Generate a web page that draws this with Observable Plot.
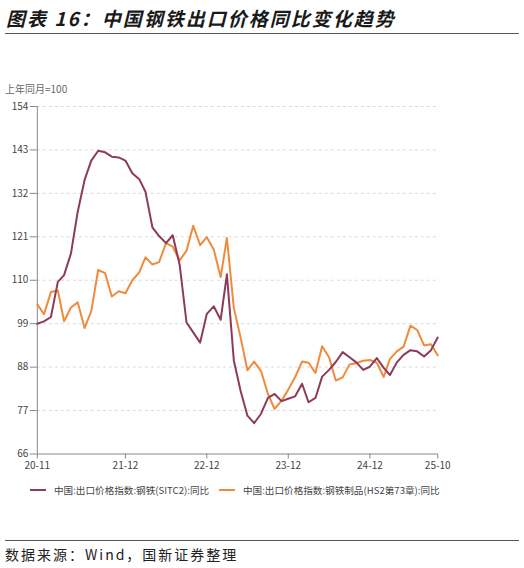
<!DOCTYPE html>
<html>
<head>
<meta charset="utf-8">
<script src="https://cdn.jsdelivr.net/npm/d3@7"></script>
<script src="https://cdn.jsdelivr.net/npm/@observablehq/plot@0.6"></script>
<style>
  body { margin: 0; background: #fff; font-family: "Noto Sans CJK SC", "Noto Sans", sans-serif; }
  #page { position: relative; width: 524px; height: 568px; overflow: hidden; }
  .title { position: absolute; left: 6px; top: 4px; font-size: 19px; font-weight: bold; font-style: italic; letter-spacing: 2px; color: #1a1a1a; }
  .rule { position: absolute; left: 5px; width: 514px; height: 1.5px; background: #555; }
  .unit { position: absolute; left: 5px; top: 81px; font-size: 10px; color: #666; }
  #chart { position: absolute; left: 0; top: 80px; }
  .legend { position: absolute; top: 483px; font-size: 9.6px; color: #444; display: flex; align-items: center; }
  .legend i { display: inline-block; width: 16px; height: 2.5px; margin-right: 8px; }
  .source { position: absolute; left: 5px; top: 544px; font-size: 14px; letter-spacing: 2px; color: #222; }
</style>
</head>
<body>
<div id="page">
  <div class="title">图表 16：中国钢铁出口价格同比变化趋势</div>
  <div class="rule" style="top:32.5px"></div>
  <div class="unit">上年同月=100</div>
  <div id="chart"></div>
  <div class="legend" style="left:30px"><i style="background:#8c3b5b"></i>中国:出口价格指数:钢铁(SITC2):同比</div>
  <div class="legend" style="left:219px"><i style="background:#f08a3c"></i>中国:出口价格指数:钢铁制品(HS2第73章):同比</div>
  <div class="rule" style="top:539.5px"></div>
  <div class="source">数据来源：Wind，国新证券整理</div>
</div>
<script>
// 月份：2020-11 到 2025-10，共 60 个月
const months = d3.utcMonth.range(new Date(Date.UTC(2020, 10, 1)), new Date(Date.UTC(2025, 10, 1)));

// 中国:出口价格指数:钢铁(SITC2):同比
const steel = [
  99.0, 99.6, 100.7, 109.6, 111.3, 116.8, 127.3, 135.4, 140.3, 142.8,
  142.4, 141.3, 141.1, 140.3, 137.1, 135.6, 132.4, 123.4, 121.2, 119.4,
  121.4, 114.0, 99.3, 96.8, 94.2, 101.5, 103.4, 100.0, 111.5, 89.7,
  82.1, 75.7, 73.8, 76.2, 80.2, 81.2, 79.4, 80.0, 80.6, 83.8,
  79.1, 80.2, 85.6, 87.3, 89.3, 91.8, 90.5, 89.2, 87.3, 88.1,
  90.3, 87.8, 86.0, 89.2, 91.1, 92.3, 92.0, 90.7, 92.3, 95.5
];

// 中国:出口价格指数:钢铁制品(HS2第73章):同比
const steelProducts = [
  103.9, 101.4, 107.0, 107.4, 99.6, 103.1, 104.4, 97.9, 102.2, 112.6,
  111.8, 105.9, 107.2, 106.7, 110.0, 112.0, 115.8, 114.0, 114.6, 119.4,
  118.5, 115.0, 117.5, 123.8, 118.9, 120.9, 117.8, 110.8, 120.7, 103.0,
  95.6, 87.2, 89.4, 87.0, 81.2, 77.4, 79.5, 82.3, 85.5, 89.4,
  89.1, 86.5, 93.3, 90.5, 84.6, 85.4, 88.7, 89.0, 89.6, 89.8,
  89.1, 85.5, 90.1, 92.0, 93.2, 98.5, 97.4, 93.5, 93.8, 91.0
];

const yTicks = [66, 77, 88, 99, 110, 121, 132, 143, 154];
const xTickLabels = ["20-11", "21-12", "22-12", "23-12", "24-12", "25-10"];
const xTicks = xTickLabels.map((s) => new Date(Date.UTC(2000 + +s.slice(0, 2), +s.slice(3) - 1, 1)));

const rows = months.map((d, i) => ({ date: d, a: steel[i], b: steelProducts[i] }));

const chart = Plot.plot({
  width: 524,
  height: 400,
  marginTop: 26,
  marginBottom: 26.5,
  marginLeft: 36.8,
  marginRight: 86.8,
  style: { fontFamily: "'Noto Sans CJK SC', sans-serif", fontSize: "10px", color: "#444", background: "transparent" },
  x: { type: "utc", domain: [months[0], months[months.length - 1]] },
  y: { domain: [66, 154] },
  marks: [
    Plot.ruleY(yTicks.slice(1), { stroke: "#d9d9d9", strokeDasharray: "3,3" }),
    Plot.ruleX([months[0]], { stroke: "#888" }),
    Plot.ruleY([66], { stroke: "#888" }),
    Plot.axisY({ ticks: yTicks, tickSize: 7, tickPadding: 2, stroke: "#888", label: null }),
    Plot.axisX({ ticks: xTicks, tickFormat: d3.utcFormat("%y-%m"), tickSize: 5, tickPadding: 3, stroke: "#888", label: null }),
    Plot.line(rows, { x: "date", y: "b", stroke: "#f08a3c", strokeWidth: 2 }),
    Plot.line(rows, { x: "date", y: "a", stroke: "#8c3b5b", strokeWidth: 2 })
  ]
});

d3.select("#chart").append(() => chart);
</script>
</body>
</html>
